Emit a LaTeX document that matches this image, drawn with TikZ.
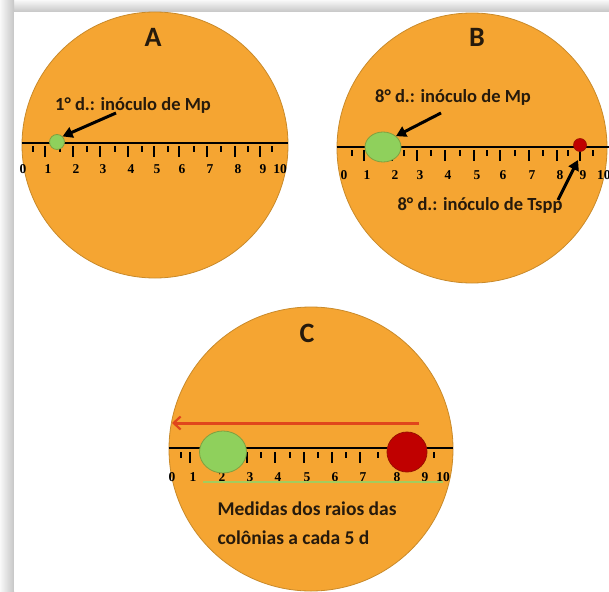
\documentclass[tikz,border=0pt]{standalone}
\usepackage{fontspec}
\setmainfont{Carlito}
\newfontfamily\numfont{Liberation Serif}
\usetikzlibrary{arrows.meta,shapes.geometric}
\definecolor{dish}{HTML}{F5A532}
\definecolor{dishedge}{HTML}{C98A2A}
\definecolor{mpgreen}{HTML}{8FD05C}
\definecolor{mpedge}{HTML}{7FA040}
\definecolor{tsred}{HTML}{C00000}
\definecolor{tsedge}{HTML}{9A1000}
\definecolor{redarrow}{HTML}{E0461C}
\definecolor{txt}{HTML}{261A0C}
\definecolor{lgreen}{HTML}{A3CC5E}
\tikzset{
  plate/.style={circle,fill=dish,draw=dishedge,line width=0.8pt,inner sep=0pt},
  title/.style={font=\fontsize{28}{30}\selectfont\bfseries,text=txt},
  lbl/.style={font=\fontsize{18.5}{20}\selectfont\bfseries,text=txt},
  num/.style={font=\numfont\fontsize{13.5}{14}\selectfont\bfseries,text=black,inner sep=0pt},
  ruler/.style={line width=1.6pt,black},
  tick/.style={line width=1.3pt,black},
  ptr/.style={line width=3pt,black,-{Triangle[length=10pt,width=11pt]}},
}
\begin{document}
\begin{tikzpicture}[x=1pt,y=-1pt]
\useasboundingbox (0,0) rectangle (609,591);
% frame shadow
\shade[top color=gray!5,bottom color=gray!45] (0,0) rectangle (609,12);
\shade[left color=gray!5,right color=gray!45] (0,0) rectangle (14,591);
\fill[white] (14,12) rectangle (609,591);

% ---------- A ----------
\node[plate,minimum size=266pt] (pA) at (155,145) {};
\node[title] (tA) at (153,37) {A};
\draw[ruler] (pA.west |- 0,143) -- (pA.east |- 0,143);
\foreach \x [count=\i from 0] in {23,48,76,103,131,157,182,210,238,263,280}{
  \node[num] (nA\i) at (\x,169) {\i};
}
\foreach \x in {45,73,100,128,154,179,207,235,260}{\draw[tick] (\x,146) -- (\x,157);}
\foreach \x in {33,60,87,115,142,168,194,221,248,272}{\draw[tick] (\x,146) -- (\x,152);}
\node[circle,fill=mpgreen,draw=mpedge,line width=0.8pt,minimum size=15pt,inner sep=0pt] (gA) at (57,142) {};
\node[lbl] (lA) at (133,105) {1° d.: inóculo de Mp};
\coordinate (sA) at (116,113);
\draw[ptr] (sA) -- (gA.north east);

% ---------- B ----------
\node[plate,minimum size=270pt] (pB) at (472,148) {};
\node[title] (tB) at (477,37) {B};
\draw[ruler] (pB.west |- 0,147) -- (609,147);
\foreach \x [count=\i from 0] in {344,367,395,420,448,477,503,532,560,583}{
  \node[num] (nB\i) at (\x,175) {\i};
}
\node[num,anchor=west] (nB10) at (597,175) {10};
\foreach \x in {364,392,417,445,474,500,529,557,580}{\draw[tick] (\x,150) -- (\x,161);}
\foreach \x in {352,378,404,431,460,487,515,543,568,593}{\draw[tick] (\x,150) -- (\x,156);}
\node[ellipse,fill=mpgreen,draw=mpedge,line width=0.8pt,minimum width=36pt,minimum height=30pt,inner sep=0pt] (gB) at (383,147) {};
\node[circle,fill=tsred,draw=tsedge,line width=0.6pt,minimum size=13pt,inner sep=0pt] (rB) at (580,145) {};
\node[lbl] (lB1) at (453,97) {8° d.: inóculo de Mp};
\node[lbl] (lB2) at (480,205) {8° d.: inóculo de Tspp};
\coordinate (sB1) at (441,113);
\coordinate (sB2) at (558,200);
\coordinate (eB2) at (578,160);
\draw[ptr] (sB1) -- (gB.north east);
\draw[ptr] (sB2) -- (eB2);

% ---------- C ----------
\node[plate,minimum size=284pt] (pC) at (311,449) {};
\node[title] (tC) at (307,333) {C};
\coordinate (aS) at (419,423);
\coordinate (aE) at (172,423);
\draw[line width=3pt,redarrow,-{Straight Barb[length=7pt,width=13pt,line width=2.2pt]}] (aS) -- (aE);
\draw[ruler] (pC.west |- 0,448) -- (pC.east |- 0,448);
\foreach \x [count=\i from 0] in {172,193,222,250,278,307,335,363,397,425,443}{
  \node[num] (nC\i) at (\x,477) {\i};
}
\foreach \x in {190,219,247,275,304,332,360,394,422}{\draw[tick] (\x,452) -- (\x,463);}
\foreach \x in {181,205,233,261,290,318,346,378,408,434}{\draw[tick] (\x,452) -- (\x,458);}
\coordinate (gl1) at (203,482);
\coordinate (gl2) at (443,482);
\draw[lgreen,line width=2.5pt] (gl1) -- (gl2);
\node[ellipse,fill=mpgreen,draw=mpedge,line width=0.8pt,minimum width=47pt,minimum height=42pt,inner sep=0pt] (gC) at (223,452) {};
\node[circle,fill=tsred,draw=tsedge,line width=0.8pt,minimum size=40pt,inner sep=0pt] (rC) at (407,452) {};
\node[lbl,align=left,anchor=north west,font=\fontsize{19.5}{29}\selectfont\bfseries] (lC) at (214,498) {Medidas dos raios das\\colônias a cada 5 d};
\end{tikzpicture}
\end{document}
